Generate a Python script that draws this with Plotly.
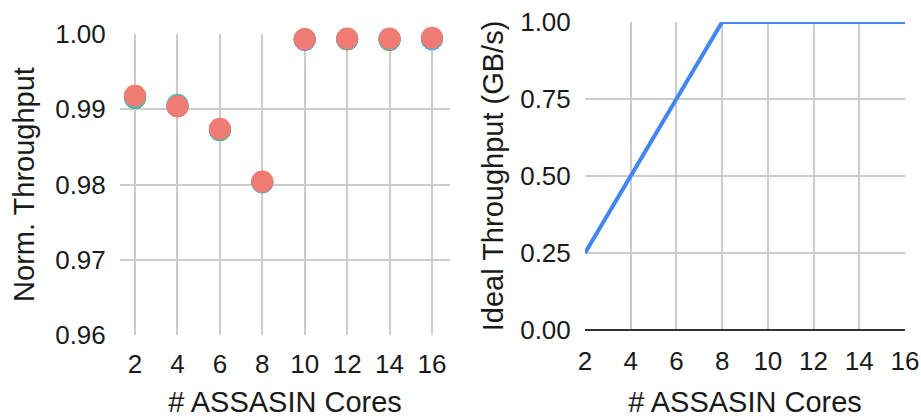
import plotly.graph_objects as go

cores = [2, 4, 6, 8, 10, 12, 14, 16]
# Normalized throughput series (several overlapping runs; the salmon one is on top)
norm_teal = [0.9916, 0.9906, 0.9873, 0.9803, 0.9993, 0.9993, 0.9993, 0.9994]
norm_green = [0.9915, 0.9904, 0.9872, 0.9803, 0.9993, 0.9993, 0.9992, 0.9994]
norm_yellow = [0.9918, 0.9904, 0.9873, 0.9803, 0.9993, 0.9993, 0.9993, 0.9994]
norm_blue = [0.9917, 0.9904, 0.9873, 0.9803, 0.9992, 0.9993, 0.9993, 0.9993]
norm_salmon = [0.9918, 0.9904, 0.9874, 0.9804, 0.9993, 0.9994, 0.9994, 0.9995]
ideal = [0.25, 0.50, 0.75, 1.00, 1.00, 1.00, 1.00, 1.00]

left_yticks = [0.96, 0.97, 0.98, 0.99, 1.00]
right_yticks = [0.00, 0.25, 0.50, 0.75, 1.00]

FONT = "Arial, Liberation Sans, sans-serif"
GRID = "#cccccc"

fig = go.Figure()

under = [(norm_green, "#34A853"), (norm_yellow, "#FBBC04"), (norm_blue, "#4285F4"), (norm_teal, "#46BDC6")]
for vals, col in under:
    fig.add_trace(go.Scatter(x=cores, y=vals, mode="markers", xaxis="x", yaxis="y",
                             marker=dict(size=22, color=col), cliponaxis=False, showlegend=False))
fig.add_trace(go.Scatter(x=cores, y=norm_salmon, mode="markers", xaxis="x", yaxis="y",
                         marker=dict(size=22, color="#F07B72"), cliponaxis=False, showlegend=False))

fig.add_trace(go.Scatter(x=cores, y=ideal, mode="lines", xaxis="x2", yaxis="y2",
                         line=dict(color="#4285F4", width=4), cliponaxis=False, showlegend=False))

W, H = 921, 418
axfont = dict(family=FONT, size=26, color="#1a1a1a")
titlefont = dict(family=FONT, size=29, color="#1a1a1a")

fig.update_layout(
    width=W, height=H,
    margin=dict(l=0, r=0, t=0, b=0, autoexpand=False),
    paper_bgcolor="white", plot_bgcolor="white",
    font=dict(family=FONT, color="#1a1a1a"),
    xaxis=dict(domain=[120 / W, 450 / W], range=[1.29, 16.85], tickvals=cores,
               showgrid=True, gridcolor=GRID, gridwidth=1.6, zeroline=False, showline=False,
               ticks="outside", ticklen=6, tickcolor="rgba(0,0,0,0)", tickfont=axfont,
               title=dict(text="# ASSASIN Cores", font=titlefont, standoff=18),
               anchor="y", automargin=False),
    yaxis=dict(domain=[1 - 335 / H, 1 - 34 / H], range=[0.96, 1.00], tickvals=left_yticks,
               tickformat=".2f", showgrid=True, gridcolor=GRID, gridwidth=1.6, zeroline=False,
               showline=False, ticks="outside", ticklen=8, tickcolor="rgba(0,0,0,0)",
               tickfont=axfont, title=dict(text="Norm. Throughput", font=titlefont, standoff=12),
               anchor="x", automargin=False),
    xaxis2=dict(domain=[585 / W, 905 / W], range=[2, 16], tickvals=cores,
                showgrid=True, gridcolor=GRID, gridwidth=1.6, zeroline=False, showline=False,
                ticks="outside", ticklen=8, tickcolor="rgba(0,0,0,0)", tickfont=axfont,
                title=dict(text="# ASSASIN Cores", font=titlefont, standoff=18),
                anchor="y2", automargin=False),
    yaxis2=dict(domain=[1 - 330 / H, 1 - 22 / H], range=[0, 1.0], tickvals=right_yticks,
                tickformat=".2f", showgrid=True, gridcolor=GRID, gridwidth=1.6,
                zeroline=True, zerolinecolor="#333333", zerolinewidth=2, showline=False,
                ticks="outside", ticklen=8, tickcolor="rgba(0,0,0,0)", tickfont=axfont,
                title=dict(text="Ideal Throughput (GB/s)", font=titlefont, standoff=8),
                anchor="x2", automargin=False),
)

fig.write_html("out.html")
